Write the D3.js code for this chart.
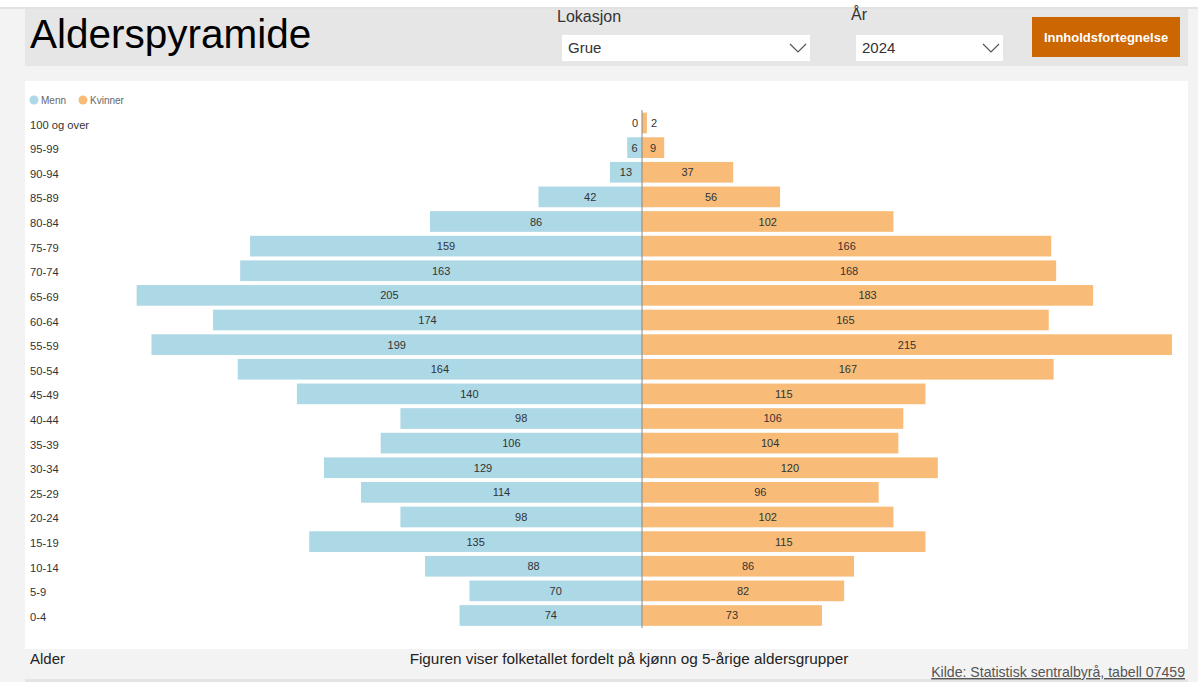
<!DOCTYPE html>
<html><head><meta charset="utf-8">
<script src="https://cdn.jsdelivr.net/npm/d3@7"></script>
<style>
html,body{margin:0;padding:0;background:#f3f3f3;overflow:hidden;}
svg{display:block;font-family:"Liberation Sans",Arial,sans-serif;}
</style></head>
<body>
<svg id="c" width="1198" height="682"></svg>
<script>
const ageGroups = ["100 og over","95-99","90-94","85-89","80-84","75-79","70-74","65-69","60-64","55-59","50-54","45-49","40-44","35-39","30-34","25-29","20-24","15-19","10-14","5-9","0-4"];
const menn    = [0,6,13,42,86,159,163,205,174,199,164,140,98,106,129,114,98,135,88,70,74];
const kvinner = [2,9,37,56,102,166,168,183,165,215,167,115,106,104,120,96,102,115,86,82,73];
const seriesNames = ["Menn","Kvinner"];
const colors = ["#add8e6","#f8bc78"];

const svg = d3.select("#c");

// page framing
svg.append("rect").attr("x",0).attr("y",0).attr("width",1198).attr("height",7).attr("fill","#ffffff");
svg.append("rect").attr("x",0).attr("y",7).attr("width",1198).attr("height",2).attr("fill","#e2e2e2");
svg.append("rect").attr("x",25).attr("y",9).attr("width",1163).attr("height",57).attr("fill","#e6e6e6");
svg.append("rect").attr("x",25).attr("y",81).attr("width",1163).attr("height",568).attr("fill","#ffffff");
svg.append("rect").attr("x",25).attr("y",679).attr("width",1163).attr("height",3).attr("fill","#e4e4e4");

// header
svg.append("text").attr("x",30).attr("y",48).attr("font-size",40.5).attr("fill","#000").text("Alderspyramide");
svg.append("text").attr("x",557).attr("y",22).attr("font-size",16).attr("fill","#333").text("Lokasjon");
svg.append("text").attr("x",851).attr("y",20).attr("font-size",16).attr("fill","#333").text("År");
function dropdown(x,w,label){
  svg.append("rect").attr("x",x).attr("y",35).attr("width",w).attr("height",26).attr("fill","#fff");
  svg.append("text").attr("x",x+6).attr("y",53).attr("font-size",15).attr("fill","#333").text(label);
  const cx = x+w-12;
  svg.append("path").attr("d",`M${cx-8},44 L${cx},52 L${cx+8},44`).attr("fill","none").attr("stroke","#555").attr("stroke-width",1.2);
}
dropdown(562,248,"Grue");
dropdown(856,147,"2024");
svg.append("rect").attr("x",1032).attr("y",17).attr("width",148).attr("height",40).attr("fill","#cc6600");
svg.append("text").attr("x",1106).attr("y",42).attr("text-anchor","middle").attr("font-size",13).attr("font-weight","bold").attr("fill","#fff").text("Innholdsfortegnelse");

// legend
const lg = svg.append("g");
[[34,41],[83,90]].forEach((p,i)=>{
  lg.append("circle").attr("cx",p[0]).attr("cy",100).attr("r",4.5).attr("fill",colors[i]);
  lg.append("text").attr("x",p[1]).attr("y",104).attr("font-size",10).attr("fill","#666").text(seriesNames[i]);
});

// scales
const x = d3.scaleLinear().domain([-215,215]).range([112,1172]);
const y = d3.scaleBand().domain(ageGroups).range([110.7,627.8]).paddingInner(0.16).paddingOuter(0.08);

// y axis labels
svg.append("g").selectAll("text").data(ageGroups).join("text")
  .attr("x",30).attr("y",d=>y(d)+y.bandwidth()/2+5.5).attr("font-size",11.2).attr("fill","#333").text(d=>d);

const rows = ageGroups.map((g,i)=>({g, m:menn[i], k:kvinner[i]}));
const bars = svg.append("g");
bars.selectAll("rect.m").data(rows).join("rect").attr("class","m")
  .attr("x",d=>x(-d.m)).attr("width",d=>x(0)-x(-d.m)).attr("y",d=>y(d.g)).attr("height",y.bandwidth()).attr("fill",colors[0]);
bars.selectAll("rect.k").data(rows).join("rect").attr("class","k")
  .attr("x",x(0)).attr("width",d=>x(d.k)-x(0)).attr("y",d=>y(d.g)).attr("height",y.bandwidth()).attr("fill",colors[1]);

const lab = svg.append("g").attr("font-size",11).attr("fill","#333");
rows.forEach(d=>{
  const cy = y(d.g)+y.bandwidth()/2+4;
  const wm = x(0)-x(-d.m), wk = x(d.k)-x(0);
  const tw = String(d.m).length*6.2+4;
  if (wm>=tw) lab.append("text").attr("x",(x(-d.m)+x(0))/2).attr("y",cy).attr("text-anchor","middle").text(d.m);
  else lab.append("text").attr("x",x(-d.m)-4).attr("y",cy).attr("text-anchor","end").text(d.m);
  const tk = String(d.k).length*6.2+4;
  if (wk>=tk) lab.append("text").attr("x",(x(d.k)+x(0))/2).attr("y",cy).attr("text-anchor","middle").text(d.k);
  else lab.append("text").attr("x",x(d.k)+4).attr("y",cy).attr("text-anchor","start").text(d.k);
});

// center line
svg.append("line").attr("x1",x(0)).attr("x2",x(0)).attr("y1",110).attr("y2",628).attr("stroke","#888").attr("stroke-width",1);

// footer
svg.append("text").attr("x",30).attr("y",664).attr("font-size",15).attr("fill","#222").text("Alder");
svg.append("text").attr("x",629).attr("y",664).attr("text-anchor","middle").attr("font-size",15.3).attr("fill","#222").text("Figuren viser folketallet fordelt på kjønn og 5-årige aldersgrupper");
svg.append("text").attr("x",1185).attr("y",677).attr("text-anchor","end").attr("font-size",14.1).attr("fill","#555").attr("text-decoration","underline").text("Kilde: Statistisk sentralbyrå, tabell 07459");
</script>
</body></html>
